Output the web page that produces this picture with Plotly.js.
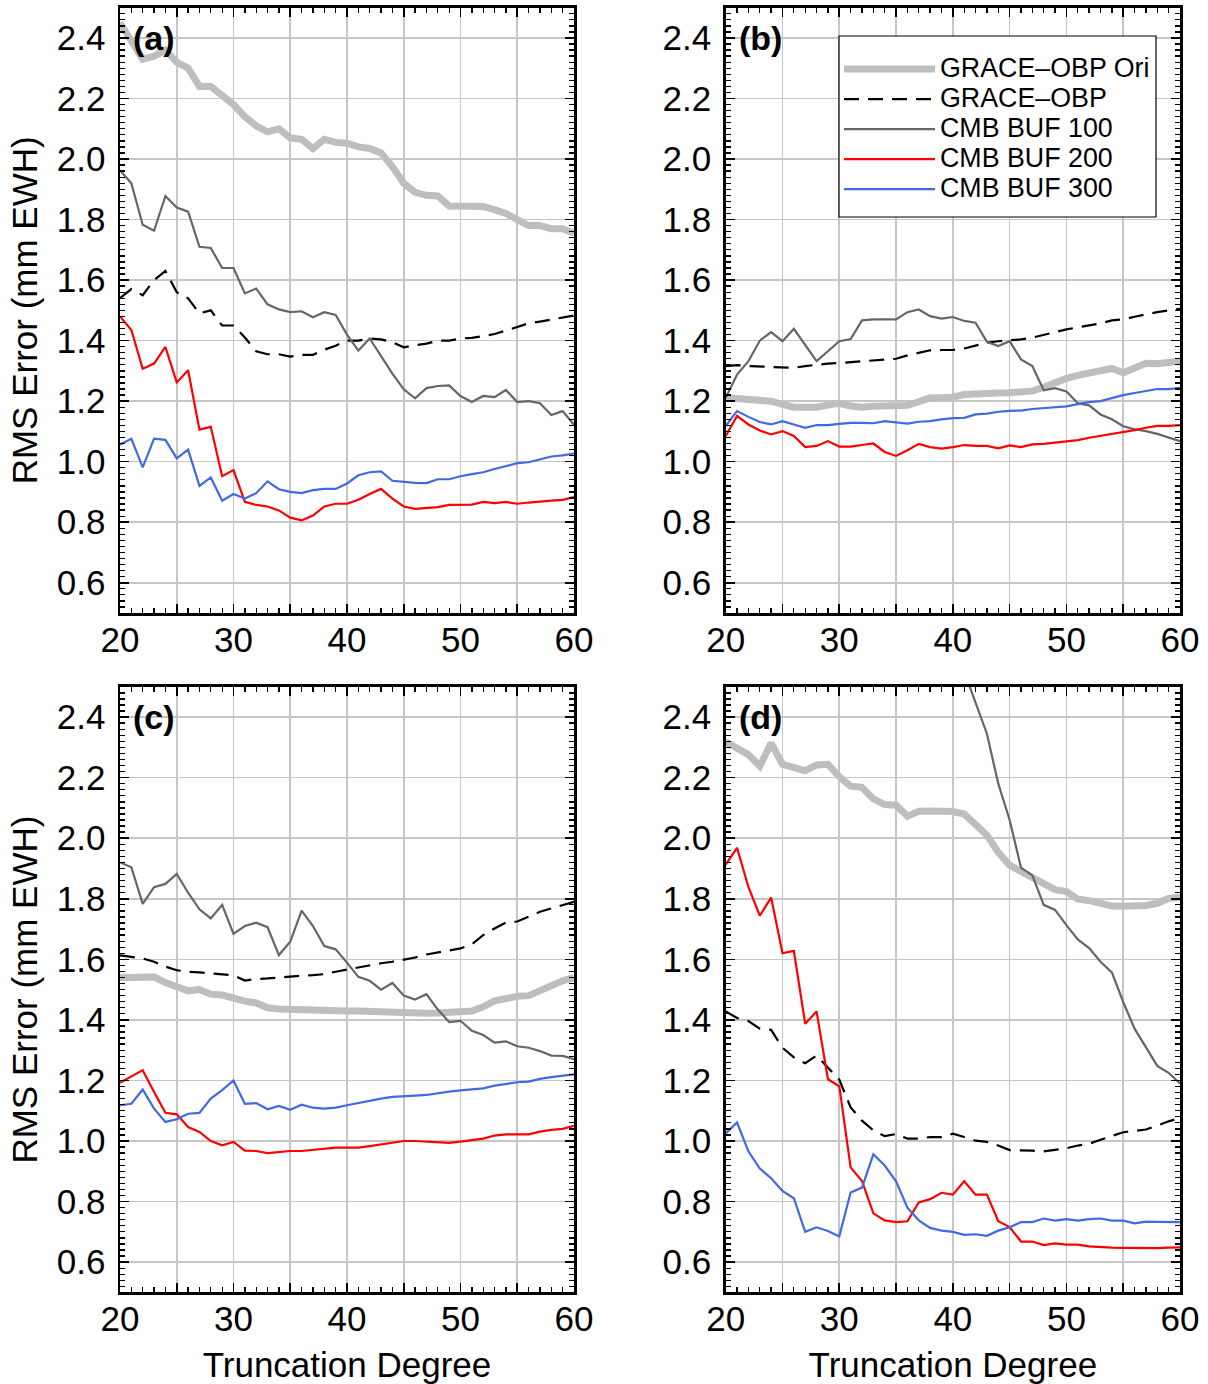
<!DOCTYPE html>
<html>
<head>
<meta charset="utf-8">
<script src="https://cdn.plot.ly/plotly-3.0.1.min.js"></script>
<style>
  html, body { margin: 0; padding: 0; background: #ffffff; }
  #chart { width: 1208px; height: 1384px; }
</style>
</head>
<body>
<div id="chart"></div>
<script>
// Truncation degree (x values)
const degrees = [20,21,22,23,24,25,26,27,28,29,30,31,32,33,34,35,36,37,38,39,40,
                 41,42,43,44,45,46,47,48,49,50,51,52,53,54,55,56,57,58,59,60];

const seriesNames = ["GRACE\u2013OBP Ori", "GRACE\u2013OBP", "CMB BUF 100", "CMB BUF 200", "CMB BUF 300"];
const panelLabels = ["(a)", "(b)", "(c)", "(d)"];
const xTickVals = [20,25,30,35,40,45,50,55,60];
const xTickText = ["20","","30","","40","","50","","60"];

// ---- Panel (a)
const oriA  = [2.45,2.39,2.33,2.34,2.36,2.32,2.30,2.24,2.24,2.21,2.18,2.14,2.11,2.09,2.10,2.07,2.065,2.035,2.065,2.055,2.052,
               2.04,2.035,2.02,1.975,1.92,1.89,1.88,1.878,1.845,1.843,1.843,1.843,1.833,1.82,1.80,1.78,1.78,1.77,1.77,1.755];
const obpA  = [1.54,1.57,1.55,1.60,1.63,1.56,1.54,1.49,1.50,1.45,1.45,1.41,1.365,1.355,1.355,1.347,1.353,1.353,1.37,1.383,1.40,
               1.40,1.407,1.404,1.395,1.378,1.385,1.39,1.40,1.40,1.407,1.409,1.415,1.422,1.433,1.446,1.457,1.463,1.47,1.476,1.483];
const buf100A = [1.963,1.92,1.783,1.763,1.878,1.84,1.826,1.71,1.706,1.64,1.64,1.556,1.572,1.52,1.503,1.494,1.497,1.477,1.494,1.485,1.42,
               1.367,1.407,1.35,1.291,1.239,1.209,1.243,1.25,1.252,1.217,1.197,1.217,1.213,1.237,1.197,1.20,1.193,1.154,1.167,1.122];
const buf200A = [1.48,1.435,1.307,1.324,1.379,1.262,1.302,1.106,1.115,0.952,0.972,0.867,0.857,0.852,0.839,0.815,0.806,0.822,0.852,0.861,0.861,
               0.874,0.893,0.91,0.878,0.852,0.844,0.848,0.85,0.857,0.857,0.858,0.867,0.863,0.867,0.861,0.865,0.869,0.871,0.874,0.883];
const buf300A = [1.057,1.076,0.981,1.076,1.072,1.011,1.04,0.92,0.948,0.871,0.893,0.878,0.896,0.935,0.909,0.90,0.896,0.906,0.91,0.91,0.928,
               0.955,0.965,0.968,0.937,0.933,0.93,0.929,0.942,0.942,0.952,0.959,0.965,0.976,0.985,0.995,0.998,1.007,1.017,1.021,1.027];

// ---- Panel (b)
const oriB  = [1.211,1.208,1.208,1.206,1.20,1.189,1.18,1.18,1.18,1.187,1.193,1.184,1.18,1.183,1.183,1.183,1.186,1.198,1.211,1.211,1.213,
               1.222,1.225,1.225,1.227,1.228,1.23,1.233,1.246,1.263,1.275,1.285,1.292,1.30,1.308,1.294,1.307,1.325,1.324,1.329,1.332];
const obpB  = [1.316,1.319,1.316,1.314,1.313,1.31,1.31,1.316,1.321,1.324,1.326,1.329,1.332,1.335,1.337,1.34,1.351,1.36,1.368,1.369,1.369,
               1.374,1.384,1.393,1.398,1.40,1.404,1.41,1.418,1.428,1.437,1.443,1.451,1.457,1.467,1.47,1.479,1.487,1.494,1.50,1.505];
const buf100B = [1.211,1.288,1.332,1.40,1.428,1.398,1.439,1.384,1.332,1.365,1.398,1.405,1.467,1.47,1.47,1.47,1.494,1.503,1.481,1.473,1.478,
               1.465,1.459,1.396,1.382,1.398,1.338,1.316,1.236,1.243,1.232,1.193,1.186,1.156,1.14,1.117,1.107,1.101,1.092,1.081,1.068];
const buf200B = [1.085,1.151,1.123,1.103,1.09,1.101,1.085,1.048,1.052,1.068,1.05,1.05,1.055,1.06,1.032,1.019,1.038,1.059,1.048,1.043,1.048,
               1.055,1.052,1.052,1.044,1.054,1.048,1.057,1.059,1.063,1.068,1.071,1.079,1.085,1.093,1.098,1.104,1.112,1.118,1.118,1.121];
const buf300B = [1.118,1.167,1.148,1.131,1.123,1.134,1.123,1.112,1.121,1.121,1.125,1.128,1.128,1.127,1.134,1.129,1.126,1.132,1.134,1.14,1.144,
               1.145,1.156,1.159,1.165,1.168,1.169,1.174,1.177,1.18,1.183,1.19,1.197,1.2,1.211,1.22,1.227,1.233,1.24,1.24,1.244];

// ---- Panel (c)
const oriC  = [1.539,1.54,1.542,1.542,1.523,1.509,1.496,1.5,1.485,1.482,1.469,1.462,1.456,1.44,1.436,1.434,1.432,1.432,1.432,1.43,1.429,
               1.429,1.427,1.427,1.425,1.425,1.422,1.422,1.423,1.426,1.429,1.429,1.443,1.463,1.47,1.478,1.48,1.498,1.511,1.529,1.54];
const obpC  = [1.613,1.609,1.603,1.592,1.576,1.564,1.559,1.557,1.553,1.55,1.547,1.53,1.535,1.537,1.54,1.545,1.546,1.548,1.551,1.559,1.566,
               1.573,1.581,1.587,1.592,1.598,1.606,1.616,1.623,1.628,1.636,1.65,1.68,1.702,1.721,1.725,1.741,1.757,1.768,1.779,1.79];
const buf100C = [1.92,1.904,1.783,1.838,1.849,1.882,1.82,1.765,1.735,1.78,1.684,1.71,1.721,1.706,1.614,1.658,1.761,1.71,1.644,1.633,1.589,
               1.542,1.529,1.5,1.522,1.48,1.467,1.485,1.434,1.393,1.397,1.364,1.35,1.325,1.329,1.313,1.308,1.297,1.282,1.281,1.27];
const buf200C = [1.192,1.214,1.234,1.162,1.093,1.088,1.046,1.03,1.0,0.986,0.997,0.968,0.967,0.96,0.963,0.967,0.967,0.97,0.975,0.978,0.978,
               0.978,0.983,0.988,0.994,1.0,1.0,0.998,0.998,0.994,0.998,1.002,1.008,1.018,1.022,1.022,1.022,1.031,1.037,1.04,1.05];
const buf300C = [1.118,1.123,1.17,1.107,1.063,1.072,1.09,1.093,1.14,1.168,1.2,1.123,1.125,1.105,1.116,1.103,1.12,1.11,1.107,1.11,1.118,
               1.126,1.132,1.14,1.146,1.149,1.15,1.152,1.158,1.163,1.167,1.17,1.174,1.183,1.188,1.194,1.196,1.205,1.211,1.215,1.22];

// ---- Panel (d)
const oriD  = [2.318,2.295,2.276,2.238,2.314,2.244,2.234,2.223,2.242,2.244,2.203,2.172,2.168,2.13,2.111,2.109,2.073,2.089,2.09,2.091,2.088,
               2.08,2.042,2.01,1.953,1.911,1.89,1.87,1.852,1.83,1.824,1.799,1.794,1.787,1.776,1.775,1.775,1.778,1.785,1.801,1.805];
const obpD  = [1.428,1.406,1.396,1.371,1.367,1.308,1.276,1.257,1.282,1.244,1.203,1.111,1.067,1.035,1.016,1.023,1.008,1.008,1.013,1.013,1.024,
               1.013,1.001,0.997,0.985,0.97,0.97,0.968,0.966,0.972,0.976,0.985,0.991,1.004,1.016,1.029,1.033,1.038,1.051,1.065,1.076];
const buf100D = [null,null,null,null,null,null,null,null,null,null,null,null,null,null,null,null,null,null,null,null,null,
               2.55,2.445,2.345,2.18,2.06,1.903,1.877,1.78,1.763,1.713,1.666,1.637,1.592,1.557,1.459,1.371,1.308,1.248,1.225,1.19];
const buf200D = [1.913,1.968,1.839,1.744,1.804,1.62,1.628,1.387,1.428,1.204,1.181,0.913,0.868,0.761,0.738,0.732,0.735,0.797,0.808,0.829,0.823,
               0.867,0.823,0.823,0.735,0.716,0.668,0.668,0.656,0.662,0.658,0.658,0.652,0.649,0.648,0.647,0.646,0.646,0.646,0.648,0.649];
const buf300D = [1.025,1.061,0.966,0.909,0.877,0.835,0.811,0.70,0.715,0.703,0.685,0.83,0.846,0.956,0.919,0.867,0.78,0.738,0.713,0.704,0.70,
               0.69,0.692,0.687,0.704,0.715,0.732,0.732,0.744,0.737,0.742,0.737,0.742,0.744,0.737,0.737,0.728,0.734,0.733,0.732,0.732];

const panels = [
  [oriA, obpA, buf100A, buf200A, buf300A],
  [oriB, obpB, buf100B, buf200B, buf300B],
  [oriC, obpC, buf100C, buf200C, buf300C],
  [oriD, obpD, buf100D, buf200D, buf300D]
];

const lineStyles = [
  {color: "#bebebe", width: 7},
  {color: "#000000", width: 2.2, dash: "15px,9px"},
  {color: "#666666", width: 2.2},
  {color: "#ff0000", width: 2.2},
  {color: "#4169e1", width: 2.2}
];

const FONT = "Liberation Sans, Arial, Helvetica, sans-serif";
const LEGEND_TEXT_PX = 26.8;
const traces = [];
panels.forEach((series, p) => {
  const sfx = p === 0 ? "" : String(p + 1);
  series.forEach((vals, s) => {
    traces.push({
      type: "scatter", mode: "lines",
      x: degrees, y: vals,
      name: '<span style="font-size:' + LEGEND_TEXT_PX + 'px">' + seriesNames[s] + '</span>',
      showlegend: p === 0,
      connectgaps: false,
      line: lineStyles[s],
      xaxis: "x" + sfx, yaxis: "y" + sfx,
      hoverinfo: "skip"
    });
  });
});

function xAxis(domain, showTitle) {
  return {
    domain: domain, range: [20, 60],
    tickmode: "array", tickvals: xTickVals, ticktext: xTickText,
    ticks: "inside", ticklen: 9, tickwidth: 1.6, tickcolor: "#000",
    minor: {tickmode: "linear", tick0: 20, dtick: 1, ticks: "inside", ticklen: 5, tickwidth: 1.3, tickcolor: "#000", showgrid: false},
    showgrid: true, gridcolor: "#c6c6c6", gridwidth: 1.6,
    showline: true, linecolor: "#000", linewidth: 2.5, mirror: "allticks",
    zeroline: false,
    tickfont: {family: FONT, size: 35, color: "#000"},
    ticklabelstandoff: -6,
    title: showTitle ? {text: "Truncation Degree", font: {family: FONT, size: 35, color: "#000"}, standoff: 22} : {text: ""}
  };
}
function yAxis(domain, anchor, showTitle) {
  return {
    domain: domain, range: [0.5, 2.5], anchor: anchor,
    tick0: 0, dtick: 0.2, tickformat: ".1f",
    ticks: "inside", ticklen: 9, tickwidth: 1.6, tickcolor: "#000",
    minor: {tick0: 0, dtick: 0.02, ticks: "inside", ticklen: 5, tickwidth: 1.3, tickcolor: "#000", showgrid: false},
    showgrid: true, gridcolor: "#c6c6c6", gridwidth: 1.6,
    showline: true, linecolor: "#000", linewidth: 2.5, mirror: "allticks",
    zeroline: false,
    tickfont: {family: FONT, size: 35, color: "#000"},
    ticklabelstandoff: 5,
    title: showTitle ? {text: "RMS Error (mm EWH)", font: {family: FONT, size: 35, color: "#000"}, standoff: 9} : {text: ""}
  };
}

const W = 1208, H = 1384;
const xL = [120 / W, 574 / W];
const xR = [725.7 / W, 1180 / W];
const yT = [(H - 613) / H, (H - 7.7) / H];
const yB = [(H - 1292.4) / H, (H - 686.8) / H];

const annotations = panelLabels.map((lab, i) => {
  const sfx = i === 0 ? "" : String(i + 1);
  return {
    text: "<b>" + lab + "</b>",
    xref: "x" + sfx + " domain", yref: "y" + sfx + " domain",
    x: 0.024, y: 0.95, xanchor: "left", yanchor: "middle",
    showarrow: false,
    font: {family: FONT, size: 34, color: "#000"}
  };
});

// legend frame (box behind the legend entries)
const legendBox = {
  type: "rect", xref: "paper", yref: "paper", layer: "above",
  x0: 839 / W, x1: 1156 / W, y0: (H - 217) / H, y1: (H - 36) / H,
  fillcolor: "#ffffff", line: {color: "#000", width: 1.2}
};

const layout = {
  width: W, height: H,
  margin: {l: 0, r: 0, t: 0, b: 0},
  paper_bgcolor: "#fff", plot_bgcolor: "#fff",
  showlegend: true,
  legend: {
    x: 839 / W, y: (H - 49) / H, xanchor: "left", yanchor: "top",
    xref: "paper", yref: "paper",
    bgcolor: "rgba(0,0,0,0)", borderwidth: 0,
    font: {family: FONT, size: 20.8, color: "#000"},
    itemwidth: 91, tracegroupgap: 0
  },
  shapes: [legendBox],
  xaxis:  Object.assign(xAxis(xL, false), {anchor: "y"}),
  yaxis:  yAxis(yT, "x", true),
  xaxis2: Object.assign(xAxis(xR, false), {anchor: "y2"}),
  yaxis2: yAxis(yT, "x2", false),
  xaxis3: Object.assign(xAxis(xL, true), {anchor: "y3"}),
  yaxis3: yAxis(yB, "x3", true),
  xaxis4: Object.assign(xAxis(xR, true), {anchor: "y4"}),
  yaxis4: yAxis(yB, "x4", false),
  annotations: annotations
};

Plotly.newPlot("chart", traces, layout, {staticPlot: true, displayModeBar: false});
</script>
</body>
</html>
